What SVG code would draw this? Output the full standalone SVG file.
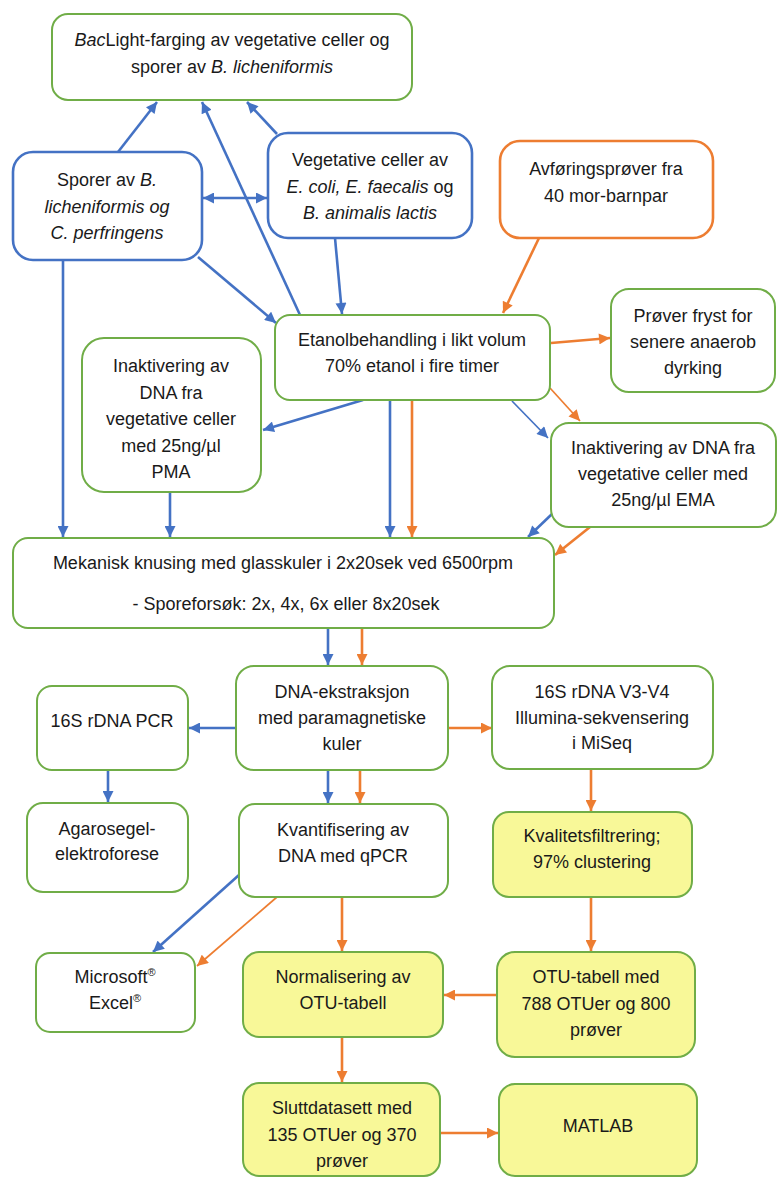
<svg xmlns="http://www.w3.org/2000/svg" width="777" height="1178" viewBox="0 0 777 1178">
<style>
text{font-family:"Liberation Sans",Arial,sans-serif;font-size:18px;fill:#1a1a1a;text-anchor:middle}
.i{font-style:italic}
.g{fill:#fff;stroke:#70AD47;stroke-width:2}
.y{fill:#F8F898;stroke:#70AD47;stroke-width:2}
.b{fill:#fff;stroke:#4472C4;stroke-width:2.6}
.o{fill:#fff;stroke:#ED7D31;stroke-width:2.6}
.cb{stroke:#4472C4;stroke-width:2.6;fill:none;marker-end:url(#ab)}
.co{stroke:#ED7D31;stroke-width:2.6;fill:none;marker-end:url(#ao)}
.t{stroke-width:1.7}
.sup{font-size:11px}
</style>
<defs>
<marker id="ab" viewBox="0 0 10 10" refX="10" refY="5" markerWidth="12" markerHeight="11" markerUnits="userSpaceOnUse" orient="auto-start-reverse"><path d="M0,0L10,5L0,10z" fill="#4472C4"/></marker>
<marker id="ao" viewBox="0 0 10 10" refX="10" refY="5" markerWidth="12" markerHeight="11" markerUnits="userSpaceOnUse" orient="auto"><path d="M0,0L10,5L0,10z" fill="#ED7D31"/></marker>
</defs>
<rect width="777" height="1178" fill="#fff"/>
<g id="connectors">
<line class="cb" x1="118" y1="152" x2="157" y2="102"/>
<line class="cb" x1="300" y1="315" x2="202" y2="102"/>
<line class="cb" x1="277" y1="134" x2="247" y2="102"/>
<line class="cb" x1="203" y1="198" x2="267" y2="198" marker-start="url(#ab)"/>
<line class="cb" x1="63" y1="260" x2="63" y2="537"/>
<line class="cb" x1="198" y1="257" x2="276" y2="323"/>
<line class="cb" x1="335" y1="238" x2="342" y2="314"/>
<line class="cb" x1="363" y1="400" x2="263" y2="430"/>
<line class="cb" x1="170" y1="492" x2="170" y2="537"/>
<line class="cb" x1="390" y1="400" x2="390" y2="537"/>
<line class="cb t" x1="512" y1="401" x2="548" y2="438"/>
<line class="cb" x1="552" y1="514" x2="528" y2="537"/>
<line class="co" x1="539" y1="238" x2="503" y2="313"/>
<line class="co" x1="551" y1="343" x2="610" y2="338"/>
<line class="co t" x1="550" y1="388" x2="580" y2="421"/>
<line class="co" x1="412" y1="400" x2="412" y2="537"/>
<line class="co" x1="590" y1="527" x2="555" y2="555"/>
<line class="cb" x1="328" y1="628" x2="328" y2="665"/>
<line class="co" x1="362" y1="628" x2="362" y2="665"/>
<line class="cb" x1="236" y1="728" x2="189" y2="728"/>
<line class="co" x1="448" y1="728" x2="492" y2="728"/>
<line class="cb" x1="108" y1="770" x2="108" y2="802"/>
<line class="cb" x1="328" y1="770" x2="328" y2="803"/>
<line class="co" x1="360" y1="770" x2="360" y2="803"/>
<line class="co" x1="591" y1="769" x2="591" y2="811"/>
<line class="co" x1="591" y1="897" x2="591" y2="951"/>
<line class="cb" x1="239" y1="875" x2="153" y2="952"/>
<line class="co t" x1="277" y1="897" x2="197" y2="966"/>
<line class="co" x1="342" y1="897" x2="342" y2="951"/>
<line class="co" x1="497" y1="995" x2="444" y2="995"/>
<line class="co" x1="342" y1="1037" x2="342" y2="1082"/>
<line class="co" x1="440" y1="1133" x2="498" y2="1133"/>
</g>
<g id="baclight"><rect class="g" x="52" y="14" width="360" height="86" rx="16"/>
<text x="232" y="46"><tspan class="i">Bac</tspan>Light-farging av vegetative celler og</text>
<text x="232" y="73">sporer av <tspan class="i">B. licheniformis</tspan></text></g>
<g id="sporer"><rect class="b" x="13" y="152" width="189" height="108" rx="20"/>
<text x="107" y="186">Sporer av <tspan class="i">B.</tspan></text>
<text x="107" y="213" class="i">licheniformis og</text>
<text x="107" y="239" class="i">C. perfringens</text></g>
<g id="vegetative"><rect class="b" x="268" y="133" width="204" height="105" rx="20"/>
<text x="370" y="166">Vegetative celler av</text>
<text x="370" y="193"><tspan class="i">E. coli, E. faecalis</tspan> og</text>
<text x="370" y="219" class="i">B. animalis lactis</text></g>
<g id="avforing"><rect class="o" x="500" y="141" width="213" height="97" rx="20"/>
<text x="606" y="175">Avføringsprøver fra</text>
<text x="606" y="202">40 mor-barnpar</text></g>
<g id="etanol"><rect class="g" x="275" y="315" width="275" height="85" rx="15"/>
<text x="412" y="346">Etanolbehandling i likt volum</text>
<text x="412" y="372">70% etanol i fire timer</text></g>
<g id="fryst"><rect class="g" x="611" y="289" width="164" height="103" rx="18"/>
<text x="693" y="322">Prøver fryst for</text>
<text x="693" y="348">senere anaerob</text>
<text x="693" y="374">dyrking</text></g>
<g id="pma"><rect class="g" x="82" y="338" width="179" height="154" rx="22"/>
<text x="171" y="372">Inaktivering av</text>
<text x="171" y="399">DNA fra</text>
<text x="171" y="425">vegetative celler</text>
<text x="171" y="452">med 25ng/µl</text>
<text x="171" y="478">PMA</text></g>
<g id="ema"><rect class="g" x="551" y="423" width="225" height="104" rx="18"/>
<text x="663" y="454">Inaktivering av DNA fra</text>
<text x="663" y="480">vegetative celler med</text>
<text x="663" y="506">25ng/µl EMA</text></g>
<g id="mekanisk"><rect class="g" x="13" y="538" width="541" height="90" rx="15"/>
<text x="283" y="569">Mekanisk knusing med glasskuler i 2x20sek ved 6500rpm</text>
<text x="286" y="610">- Sporeforsøk: 2x, 4x, 6x eller 8x20sek</text></g>
<g id="pcr"><rect class="g" x="37" y="686" width="151" height="84" rx="15"/>
<text x="112" y="727">16S rDNA PCR</text></g>
<g id="dnaekstraksjon"><rect class="g" x="236" y="666" width="212" height="104" rx="18"/>
<text x="342" y="698">DNA-ekstraksjon</text>
<text x="342" y="724">med paramagnetiske</text>
<text x="342" y="750">kuler</text></g>
<g id="illumina"><rect class="g" x="492" y="666" width="221" height="103" rx="18"/>
<text x="602" y="698">16S rDNA V3-V4</text>
<text x="602" y="724">Illumina-sekvensering</text>
<text x="602" y="749">i MiSeq</text></g>
<g id="agarose"><rect class="g" x="27" y="803" width="161" height="89" rx="16"/>
<text x="107" y="835">Agarosegel-</text>
<text x="107" y="860">elektroforese</text></g>
<g id="kvantifisering"><rect class="g" x="239" y="804" width="209" height="93" rx="16"/>
<text x="343" y="836">Kvantifisering av</text>
<text x="343" y="862">DNA med qPCR</text></g>
<g id="kvalitet"><rect class="y" x="493" y="812" width="199" height="85" rx="16"/>
<text x="592" y="842">Kvalitetsfiltrering;</text>
<text x="592" y="868">97% clustering</text></g>
<g id="excel"><rect class="g" x="36" y="953" width="159" height="79" rx="14"/>
<text x="115" y="983">Microsoft<tspan class="sup" dy="-7">®</tspan></text>
<text x="115" y="1009">Excel<tspan class="sup" dy="-7">®</tspan></text></g>
<g id="normalisering"><rect class="y" x="243" y="952" width="200" height="85" rx="16"/>
<text x="343" y="983">Normalisering av</text>
<text x="343" y="1009">OTU-tabell</text></g>
<g id="otutabell"><rect class="y" x="497" y="952" width="198" height="105" rx="18"/>
<text x="596" y="983">OTU-tabell med</text>
<text x="596" y="1010">788 OTUer og 800</text>
<text x="596" y="1036">prøver</text></g>
<g id="slutt"><rect class="y" x="243" y="1083" width="197" height="93" rx="16"/>
<text x="342" y="1114">Sluttdatasett med</text>
<text x="342" y="1141">135 OTUer og 370</text>
<text x="342" y="1167">prøver</text></g>
<g id="matlab"><rect class="y" x="499" y="1084" width="198" height="92" rx="16"/>
<text x="598" y="1132">MATLAB</text></g>
</svg>
